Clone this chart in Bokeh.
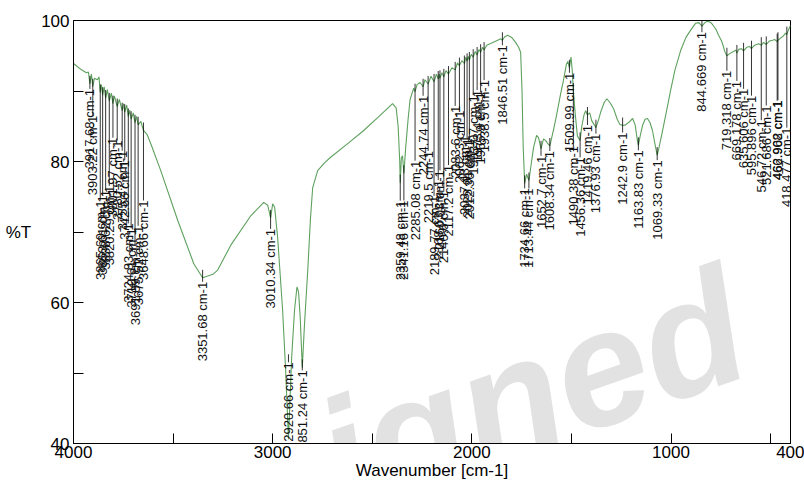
import numpy as np
from bokeh.plotting import figure
from bokeh.models import Range1d, FixedTicker, Label, ColumnDataSource
from bokeh.core.properties import value
from bokeh.embed import file_html
from bokeh.resources import INLINE

# ---------------- data ----------------
wavenumber = [
    4000, 3960, 3935, 3925, 3917.68, 3910, 3903.22, 3895, 3880, 3872, 3865.69, 3860,
    3853.61, 3846, 3838.62, 3830, 3820.29, 3810, 3801.97, 3795, 3780.52, 3770,
    3755.47, 3748, 3742.66, 3733, 3724.83, 3718, 3710.61, 3700, 3691.09, 3683,
    3675.52, 3662, 3648.66, 3630, 3609, 3562, 3476, 3396, 3351.68, 3300, 3276,
    3211, 3110, 3045, 3025, 3010.34, 3000, 2990, 2975, 2950, 2935, 2920.66, 2905,
    2890, 2878, 2870, 2862, 2851.24, 2840, 2824, 2810, 2799, 2774, 2740, 2709,
    2620, 2543, 2470, 2398, 2380, 2370, 2362, 2359.48, 2354, 2348, 2341.16, 2332,
    2320, 2310, 2292, 2285.08, 2275, 2260, 2244.74, 2235, 2219.5, 2205, 2189.77,
    2178, 2168.63, 2164, 2160.03, 2150, 2140.6, 2130, 2117.2, 2100, 2083.6, 2072,
    2062.3, 2050, 2037.43, 2030, 2023.91, 2018, 2012.36, 2003, 1993.07, 1983,
    1973.4, 1964, 1955.9, 1946, 1938.5, 1925, 1900, 1870, 1855, 1846.51, 1835,
    1820, 1800, 1780, 1765, 1755, 1748, 1742, 1734.66, 1725, 1720, 1713.44, 1703,
    1690, 1675, 1665, 1652.7, 1640, 1630, 1620, 1608.34, 1590, 1575, 1555, 1540,
    1525, 1518, 1509.99, 1502, 1496, 1490.38, 1480, 1470, 1456.36, 1448, 1436,
    1428, 1419.46, 1408, 1398, 1385, 1376.93, 1365, 1352, 1335, 1322, 1305, 1287,
    1270, 1258, 1242.9, 1228, 1210, 1193, 1180, 1170, 1163.83, 1155, 1143, 1130,
    1118, 1105, 1093, 1080, 1069.33, 1060, 1042, 1020, 1002, 980, 952, 925, 902,
    877, 860, 844.669, 830, 817, 800, 791, 775, 761, 748, 741, 730, 719.318, 705,
    686, 675, 669.178, 660, 646, 635.606, 620, 605, 595.896, 580, 560, 546.72, 535,
    521.686, 505, 490, 480, 466.908, 462.962, 450, 436, 425, 418.477, 410, 400,
]
transmittance = [
    93.9, 93.0, 92.6, 92.7, 91.0, 92.4, 90.6, 91.8, 91.6, 92.0, 89.8, 90.9,
    89.4, 90.6, 89.0, 90.2, 88.6, 89.7, 88.2, 89.3, 87.8, 88.8,
    87.2, 88.2, 87.0, 88.0, 86.4, 87.3, 86.0, 86.9, 85.5, 86.4,
    85.2, 85.7, 84.4, 83.8, 82.3, 78.7, 71.6, 65.5, 63.5, 64.0, 64.6,
    68.1, 72.3, 74.2, 73.8, 72.0, 74.0, 73.5, 69.2, 58.9, 50.5, 40.6, 52.0,
    59.0, 62.2, 61.5, 58.0, 50.8, 57.0, 64.5, 72.0, 76.3, 78.7, 79.8, 80.6,
    82.6, 84.4, 86.3, 88.2, 87.6, 85.0, 80.0, 77.0, 80.5, 80.8, 78.3, 82.0,
    86.0, 88.8, 90.4, 89.9, 90.9, 91.2, 90.6, 91.6, 91.0, 92.1, 91.3,
    92.4, 91.7, 92.4, 91.8, 92.6, 92.0, 92.9, 92.4, 93.3, 93.0, 94.0,
    93.6, 94.3, 93.9, 94.8, 94.2, 94.9, 94.4, 95.2, 94.8, 95.6,
    95.1, 95.9, 95.5, 96.2, 95.8, 96.5, 96.8, 97.2, 97.4, 97.2, 97.7,
    97.9, 97.6, 96.9, 96.2, 95.5, 90.0, 82.0, 76.9, 78.2, 77.8, 77.3, 79.4,
    82.0, 83.7, 83.4, 81.8, 83.2, 83.0, 82.6, 82.2, 84.5, 86.5, 89.5, 91.5,
    93.8, 94.2, 93.3, 94.8, 93.0, 90.0, 86.5, 83.6, 83.0, 85.0, 86.7,
    87.2, 86.6, 86.9, 85.8, 85.2, 84.8, 85.8, 87.1, 88.4, 88.9, 88.3, 87.4,
    86.0, 85.3, 85.1, 85.2, 85.6, 86.1, 85.2, 83.2, 82.3, 83.6, 85.1, 86.0,
    86.1, 85.5, 84.4, 82.4, 80.9, 82.0, 84.4, 87.5, 90.1, 93.0, 95.7, 97.6, 98.6,
    99.6, 99.7, 99.2, 99.7, 99.9, 99.7, 99.4, 98.8, 97.9, 97.2, 96.7, 95.6, 95.0, 95.3,
    95.6, 95.8, 95.4, 95.9, 96.0, 95.7, 96.2, 96.3, 96.0, 96.5, 96.7, 96.5, 96.9,
    96.6, 97.1, 97.2, 97.3, 97.0, 97.2, 97.5, 97.8, 98.2, 98.0, 98.7, 99.3,
]

peak_names = [
    "3917.68", "3903.22", "3865.69", "3853.61", "3838.62", "3820.29", "3801.97",
    "3780.52", "3755.47", "3742.66", "3724.83", "3710.61", "3691.09", "3675.52",
    "3648.66", "3351.68", "3010.34", "2920.66", "2851.24", "2359.48", "2341.16",
    "2285.08", "2244.74", "2219.5", "2189.77", "2168.63", "2160.03", "2140.6",
    "2117.2", "2083.6", "2062.3", "2037.43", "2023.91", "2012.36", "1993.07",
    "1973.4", "1955.9", "1938.5", "1846.51", "1734.66", "1713.44", "1652.7",
    "1608.34", "1509.99", "1490.38", "1456.36", "1419.46", "1376.93", "1242.9",
    "1163.83", "1069.33", "844.669", "719.318", "669.178", "635.606", "595.896",
    "546.72", "521.686", "466.908", "462.962", "418.477",
]

x_tick_values = [4000, 3000, 2000, 1000, 400]
x_minor_values = [3500, 2500, 1500, 500]
y_tick_values = [40, 60, 80, 100]
y_minor_values = [50, 70, 90]

# ---------------- layout (label placement, px below the peak) ----------------
label_gap_px = [
    5, 29, 108, 100, 92, 85, 34, 34, 40, 48, 107, 109, 123, 101, 70,
    4, 11, -77, 3, 18, 27,
    69, 9, 67, 114, 101, 92, 114, 91, 36, 45, 72, 77, 80, 38, 35, 40, 30, 5,
    5, 8, 7, 5, 5, 55, 17, 10, 6, 7, 5, 5,
    6, 15, 28, 38, 47, 75, 61, 59, 60, 93,
]

W, H = 804, 485
BL, BR, BT, BB = 73, 14, 20, 42
px_per_T = (H - BT - BB) / 60.0

FONT = "Liberation Sans"
LINE_GREEN = "#5ea15e"

p = figure(width=W, height=H, x_range=Range1d(4000, 400), y_range=Range1d(40, 100),
           output_backend="svg", toolbar_location=None,
           min_border_left=BL, min_border_right=BR, min_border_top=BT, min_border_bottom=BB)
p.xgrid.visible = False
p.ygrid.visible = False
p.outline_line_color = "black"
p.outline_line_width = 1
p.background_fill_color = "white"
p.border_fill_color = "white"

# watermark (faint grey lettering behind the spectrum)
wm = Label(x=250, y=-22, x_units="screen", y_units="screen", text="igned",
           angle=0.34, text_font="Liberation Sans",
           text_font_style="bold italic", text_font_size="165px",
           text_color="#e2e2e2", text_baseline="alphabetic", text_align="left",
           level="image")
p.add_layout(wm)

# spectrum
p.line(wavenumber, transmittance, line_color=LINE_GREEN, line_width=1.1)

# peak labels
wn_inc = np.array(wavenumber[::-1], dtype=float)
tr_inc = np.array(transmittance[::-1], dtype=float)
pk_w = np.array([float(s) for s in peak_names])
pk_t = np.interp(pk_w, wn_inc, tr_inc)
gap_T = np.array(label_gap_px) / px_per_T
top_T = pk_t - gap_T
lead_top = np.where(gap_T >= 0, pk_t, top_T) + 8.0 / px_per_T
p.segment(x0=pk_w, y0=lead_top, x1=pk_w, y1=top_T, line_color="black", line_width=0.8)
src = ColumnDataSource(dict(x=pk_w, y=top_T, t=[s + " cm-1" for s in peak_names]))
p.text(x="x", y="y", text="t", source=src, angle=np.pi / 2,
       text_align="right", text_baseline="middle",
       text_font=value(FONT), text_font_size="13px", text_color="#111111")

# axes
for ax in (p.xaxis, p.yaxis):
    ax.axis_line_color = "black"
    ax.major_tick_in = 10
    ax.major_tick_out = 0
    ax.minor_tick_in = 10
    ax.minor_tick_out = 0
    ax.major_tick_line_color = "black"
    ax.minor_tick_line_color = "black"
    ax.major_label_text_font = FONT
    ax.major_label_text_font_size = "17px"
    ax.major_label_text_color = "black"
    ax.axis_label_text_font = FONT
    ax.axis_label_text_font_size = "17px"
    ax.axis_label_text_font_style = "normal"
    ax.axis_label_text_color = "black"
p.xaxis.ticker = FixedTicker(ticks=x_tick_values, minor_ticks=x_minor_values)
p.yaxis.ticker = FixedTicker(ticks=y_tick_values, minor_ticks=y_minor_values)
p.xaxis.major_label_standoff = 2
p.yaxis.major_label_standoff = 4
p.xaxis.axis_label = "Wavenumber [cm-1]"
p.xaxis.axis_label_standoff = 0
p.yaxis.axis_label = "%T"
p.yaxis.axis_label_orientation = "horizontal"
p.yaxis.axis_label_standoff = 7

open("out.html", "w").write(file_html(p, INLINE))
